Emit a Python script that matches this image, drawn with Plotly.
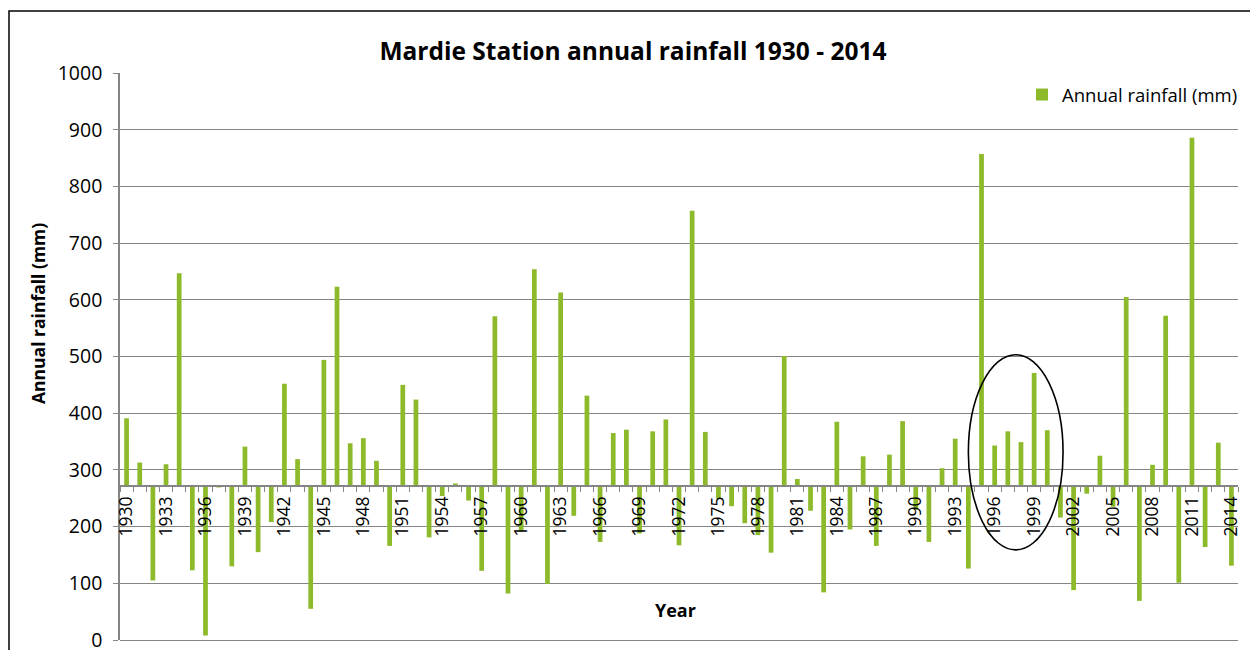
import plotly.graph_objects as go

years = list(range(1930, 2015))
rainfall_mm = [
    391, 313, 105, 310, 647, 123, 8, 269, 130, 341,
    155, 208, 452, 319, 55, 494, 623, 347, 356, 316,
    166, 450, 424, 181, 254, 276, 246, 122, 571, 82,
    191, 654, 99, 613, 219, 431, 173, 365, 371, 188,
    368, 389, 167, 757, 367, 249, 236, 206, 185, 154,
    501, 284, 228, 84, 385, 195, 324, 166, 327, 386,
    230, 173, 303, 355, 126, 857, 343, 368, 349, 471,
    370, 216, 88, 258, 325, 235, 605, 69, 309, 572,
    101, 886, 164, 348, 131,
]
axis_cross = 272
label_years = list(range(1930, 2015, 3))
y_ticks = list(range(0, 1001, 100))

FONT = "Open Sans"
GRID = "#858585"
GREEN = "#8DBA2A"

# page body has an 8px margin; figure is sized to compensate
W, H = 1250, 642
L, T, R, B = 112, 65, 20, 10
PW = W - L - R   # 1118
PH = H - T - B   # 567

def px_x(x):  # page x -> paper
    return (x - 8 - L) / PW

def px_y(y):  # page y -> paper
    return 1 - (y - 8 - T) / PH

fig = go.Figure()
fig.add_trace(go.Bar(
    x=years,
    y=[v - axis_cross for v in rainfall_mm],
    base=axis_cross,
    width=0.36,
    marker=dict(color=GREEN, line=dict(width=0)),
    name="Annual rainfall (mm)",
    showlegend=True,
))

fig.update_layout(
    width=W, height=H,
    margin=dict(l=L, r=R, t=T, b=B, autoexpand=False),
    paper_bgcolor="white", plot_bgcolor="white",
    font=dict(family=FONT, color="#000000", size=18),
    title=dict(text="<b>Mardie Station annual rainfall 1930 - 2014</b>",
               x=(633 - 8) / W, xanchor="center", y=1 - (51 - 8) / H, yanchor="middle",
               font=dict(family=FONT, size=24.5, color="#000000")),
    showlegend=True,
    legend=dict(x=px_x(1243), xanchor="right", y=px_y(95), yanchor="middle",
                font=dict(family=FONT, size=18.5, color="#000000"),
                bgcolor="rgba(0,0,0,0)", itemwidth=30),
)

fig.update_xaxes(
    range=[1929.5, 2014.5], automargin=False,
    anchor="free", position=axis_cross / 1000,
    tickmode="array", tickvals=label_years,
    ticktext=[str(y) for y in label_years],
    tickangle=-90, ticks="outside", ticklen=3, tickcolor="rgba(0,0,0,0)",
    tickfont=dict(family=FONT, size=17.5, color="#000000"),
    showline=True, linecolor=GRID, linewidth=1.6,
    showgrid=False, zeroline=False,
    minor=dict(tick0=1929.5, dtick=1, ticks="outside", ticklen=5,
               tickcolor=GRID, tickwidth=1.4, showgrid=False),
)

fig.update_yaxes(
    range=[0, 1000], tickmode="array", tickvals=y_ticks, automargin=False,
    ticks="outside", ticklen=5, tickcolor=GRID, tickwidth=1.4,
    ticklabelstandoff=7, ticklabeloverflow="allow",
    tickfont=dict(family=FONT, size=19.5, color="#000000"),
    showline=True, linecolor=GRID, linewidth=1.6,
    showgrid=True, gridcolor=GRID, gridwidth=1.4,
    zeroline=True, zerolinecolor=GRID, zerolinewidth=1.4,
)

# axis titles
fig.add_annotation(text="<b>Annual rainfall (mm)</b>", xref="paper", yref="paper",
                   x=px_x(38), y=px_y(314), xanchor="center", yanchor="middle",
                   textangle=-90, showarrow=False,
                   font=dict(family=FONT, size=17.5, color="#000000"))
fig.add_annotation(text="<b>Year</b>", xref="paper", yref="paper",
                   x=px_x(675), y=px_y(610), xanchor="center", yanchor="middle",
                   showarrow=False, font=dict(family=FONT, size=18, color="#000000"))

# highlight ellipse
fig.add_shape(type="circle", xref="x", yref="y", x0=1994.0, x1=2001.2, y0=159, y1=503,
              line=dict(color="black", width=1.6))

# outer chart border
fig.add_shape(type="rect", xref="paper", yref="paper",
              x0=px_x(9), x1=px_x(1252.5), y0=-0.1, y1=px_y(11),
              line=dict(color="black", width=1.5))

fig.write_html("out.html")
